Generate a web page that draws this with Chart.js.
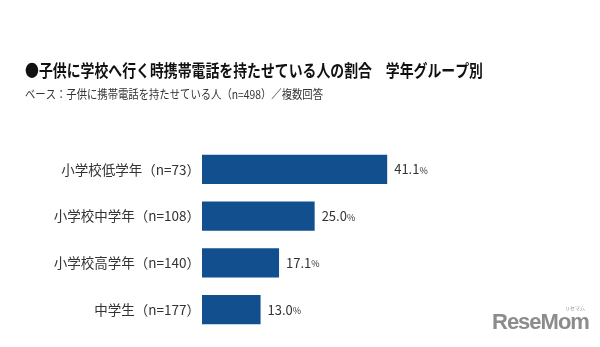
<!DOCTYPE html>
<html>
<head>
<meta charset="utf-8">
<script src="https://cdn.jsdelivr.net/npm/chart.js@4"></script>
<style>
  body { margin: 0; background: #fff; }
  #wrap { position: relative; width: 600px; height: 347px; }
  #logo { position: absolute; left: 492px; top: 309px; font-family: "Liberation Sans", Arial, sans-serif;
          font-weight: bold; font-size: 22px; letter-spacing: -1px; color: #8c8c8c; }
  #logo span { position: absolute; right: 4px; top: -5px; font-size: 5px; letter-spacing: 0;
               font-family: "Noto Sans CJK JP"; font-weight: normal; }
</style>
</head>
<body>
<div id="wrap">
  <canvas id="myChart" width="600" height="347"></canvas>
  <div id="logo">ReseMom<span>リセマム</span></div>
</div>
<script>
// data
var groups = ['小学校低学年（n=73）', '小学校中学年（n=108）', '小学校高学年（n=140）', '中学生（n=177）'];
var shares = [41.1, 25.0, 17.1, 13.0];

var titleText = '●子供に学校へ行く時携帯電話を持たせている人の割合　学年グループ別';
var subText = 'ベース：子供に携帯電話を持たせている人（n=498）／複数回答';

var jpFont = '"Noto Sans CJK JP", "Noto Sans", sans-serif';

// title + subtitle, squeezed a bit like the original's condensed type
var header = {
    id: 'header',
    beforeDraw: function (chart) {
        var ctx = chart.ctx;
        ctx.save();
        ctx.textBaseline = 'middle';
        ctx.fillStyle = '#111';
        ctx.font = 'bold 17px ' + jpFont;
        ctx.fillText(titleText, 25, 71, 458);
        ctx.fillStyle = '#333';
        ctx.font = '12px ' + jpFont;
        ctx.fillText(subText, 25, 94, 298);
        ctx.restore();
    }
};

// value labels at the end of each bar, small % sign
var valueLabels = {
    id: 'valueLabels',
    afterDatasetsDraw: function (chart) {
        var ctx = chart.ctx;
        var meta = chart.getDatasetMeta(0);
        ctx.save();
        ctx.fillStyle = '#333';
        ctx.textBaseline = 'middle';
        meta.data.forEach(function (bar, i) {
            var num = shares[i].toFixed(1);
            var x = bar.x + 7;
            ctx.font = '13px ' + jpFont;
            ctx.fillText(num, x, bar.y);
            var w = ctx.measureText(num).width;
            ctx.font = '9px ' + jpFont;
            ctx.fillText('%', x + w, bar.y + 1);
        });
        ctx.restore();
    }
};

var ctx = document.getElementById('myChart');

var chart = new Chart(ctx, {
    type: 'bar',
    data: {
        labels: groups,
        datasets: [
            {
                data: shares,
                backgroundColor: '#124f8f',
                borderWidth: 0,
                categoryPercentage: 1,
                barPercentage: 0.63
            }
        ]
    },
    options: {
        indexAxis: 'y',
        responsive: false,
        animation: false,
        layout: { padding: { left: 25, right: 15, top: 146, bottom: 14 } },
        plugins: {
            legend: { display: false },
            tooltip: { enabled: false }
        },
        scales: {
            x: {
                display: false,
                min: 0,
                max: 85
            },
            y: {
                grid: { display: false, drawTicks: false },
                border: { display: false },
                ticks: {
                    color: '#333',
                    padding: 2,
                    font: { family: jpFont, size: 13.5 }
                },
                afterFit: function (scale) { scale.width = 177; }
            }
        }
    },
    plugins: [header, valueLabels]
});
</script>
</body>
</html>
